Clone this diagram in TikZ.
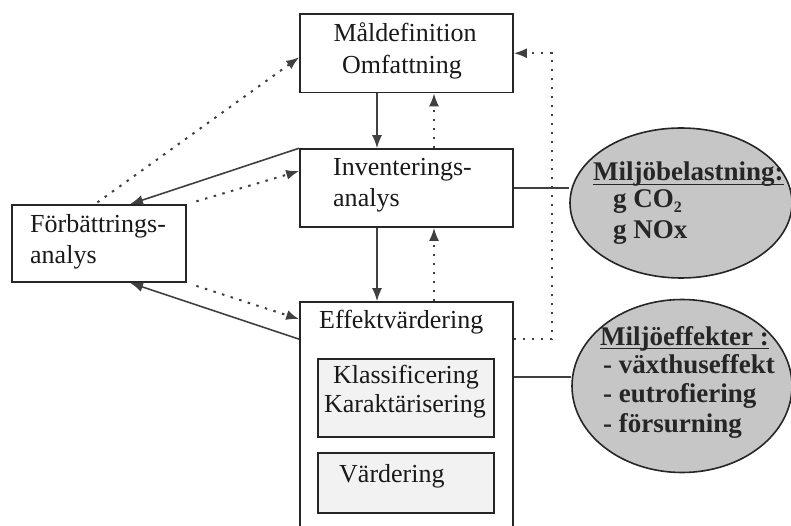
\documentclass[tikz,border=0pt]{standalone}
\usepackage{fontspec}
\setmainfont{Liberation Serif}
\usetikzlibrary{arrows.meta,shapes.geometric}
\begin{document}
\begin{tikzpicture}[x=1pt,y=-1pt,
  box/.style={draw=black!85, line width=1.6pt, rectangle, inner sep=0pt},
  innerbox/.style={box, fill=gray!10},
  blob/.style={ellipse, draw=black!85, line width=1.6pt, fill=gray!45, inner sep=0pt},
  txt/.style={font=\fontsize{26}{31}\selectfont, text=black!90, inner sep=0pt},
  btxt/.style={font=\fontsize{27}{31}\selectfont\bfseries, text=black!85, inner sep=0pt},
  solidarrow/.style={draw=black!75, line width=1.6pt, -{Latex[length=13pt,width=10pt]}},
  dotarrow/.style={draw=black!75, line width=2pt, dash pattern=on 2.5pt off 6.5pt, -{Latex[length=13pt,width=10pt]}},
  plainline/.style={draw=black!75, line width=1.5pt},
  uline/.style={draw=black!85, line width=1.4pt}]
\useasboundingbox (0,0) rectangle (791,526);
\clip (0,0) rectangle (791,526);
\fill[white] (0,0) rectangle (791,526);

% boxes
\node[box, minimum width=213pt, minimum height=78.5pt] (mal) at (406.5,53.25) {};
\node[box, minimum width=213pt, minimum height=78pt] (inv) at (406.5,188) {};
\node[box, minimum width=213pt, minimum height=258pt] (eff) at (406.5,431) {};
\node[innerbox, minimum width=176pt, minimum height=78pt] (kla) at (406,398) {};
\node[innerbox, minimum width=176pt, minimum height=60pt] (var) at (406,483) {};
\node[box, minimum width=174pt, minimum height=77pt] (forb) at (99,243.5) {};
\node[blob, minimum width=222pt, minimum height=150pt] (ell1) at (681,203) {};
\node[blob, minimum width=220pt, minimum height=173pt] (ell2) at (682,386) {};

% box texts
\node[txt, anchor=base] (t1) at (405,42) {Måldefinition};
\node[txt, anchor=base] (t2) at (402,74) {Omfattning};
\node[txt, anchor=base west] (t3) at (333,176) {Inventerings-};
\node[txt, anchor=base west] (t4) at (333,207) {analys};
\node[txt, anchor=base west] (t5) at (319,328) {Effektvärdering};
\node[txt, anchor=base] (t6) at (406,383) {Klassificering};
\node[txt, anchor=base] (t7) at (405,412) {Karaktärisering};
\node[txt, anchor=base west] (t8) at (339,482) {Värdering};
\node[txt, anchor=base west] (t9) at (30,233) {Förbättrings-};
\node[txt, anchor=base west] (t10) at (30,264) {analys};

% ellipse texts
\node[btxt, anchor=base west] (e1a) at (593,181) {Miljöbelastning:};
\draw[uline] ([yshift=-3.5pt]e1a.base west) -- ([yshift=-3.5pt]e1a.base east);
\node[btxt, anchor=base west] (e1b) at (613,208) {g CO\raisebox{-0.15em}{\fontsize{16}{16}\selectfont 2}};
\node[btxt, anchor=base west] (e1c) at (613,239) {g NOx};
\node[btxt, anchor=base west] (e2a) at (600,345) {Miljöeffekter :};
\draw[uline] ([yshift=-3.5pt]e2a.base west) -- ([yshift=-3.5pt]e2a.base east);
\node[btxt, anchor=base west] (e2b) at (603,373) {- växthuseffekt};
\node[btxt, anchor=base west] (e2c) at (603,402) {- eutrofiering};
\node[btxt, anchor=base west] (e2d) at (603,432) {- försurning};

% vertical connectors
\draw[solidarrow] ([xshift=-29.5pt]mal.south) -- ([xshift=-29.5pt]inv.north);
\draw[dotarrow] ([xshift=27.5pt]inv.north) -- ([xshift=27.5pt]mal.south);
\draw[solidarrow] ([xshift=-29.5pt]inv.south) -- ([xshift=-29.5pt]eff.north);
\draw[dotarrow] ([xshift=27.5pt]eff.north) -- ([xshift=27.5pt]inv.south);

% feedback loop on the right
\coordinate (effA) at ([yshift=-38pt]eff.north east);
\coordinate (fb) at (552,200);
\draw[dotarrow] (effA) -| (fb) |- (mal.east);

% lines to ellipses
\draw[plainline] (inv.east) -- (inv.east -| ell1.west);
\coordinate (effB) at ([yshift=-76pt]eff.north east);
\draw[plainline] (effB) -- (effB -| ell2.west);

% connectors with Förbättringsanalys
\draw[dotarrow, shorten <=3pt] ([xshift=-4pt]forb.north) -- ([yshift=-4pt]mal.west);
\draw[solidarrow] (inv.north west) -- ([xshift=31pt]forb.north);
\draw[dotarrow, shorten <=10pt] (forb.north east) -- ([yshift=17pt]inv.west);
\draw[solidarrow] ([yshift=-38pt]eff.north west) -- ([xshift=31pt]forb.south);
\draw[dotarrow, shorten <=10pt] (forb.south east) -- ([yshift=-18pt]eff.north west);
\end{tikzpicture}
\end{document}
